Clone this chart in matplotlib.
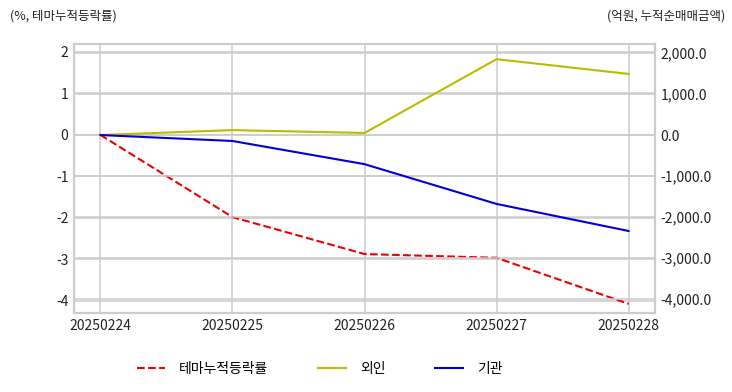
import matplotlib
matplotlib.use('Agg')
import matplotlib.pyplot as plt
from matplotlib.ticker import FuncFormatter

plt.rcParams['font.family'] = ['Noto Sans CJK KR', 'DejaVu Sans']
plt.rcParams['axes.unicode_minus'] = False

# data
dates = ['20250224', '20250225', '20250226', '20250227', '20250228']
theme_rate = [0.0, -1.98, -2.87, -2.96, -4.07]      # %, left axis
foreign = [0.0, 120.0, 50.0, 1850.0, 1490.0]        # 억원, right axis
institution = [0.0, -145.0, -710.0, -1680.0, -2340.0]

fig = plt.figure(figsize=(7.32, 3.92), dpi=100)
ax = fig.add_axes([74/732, 1 - 313/392, 581/732, 269/392])
ax2 = ax.twinx()

x = list(range(len(dates)))
grid_c = '#cccccc'

l1, = ax.plot(x, theme_rate, color='#ee0000', linestyle='--', linewidth=1.5, label='테마누적등락률')
l2, = ax2.plot(x, foreign, color='#bbbb00', linewidth=1.5, label='외인')
l3, = ax2.plot(x, institution, color='#0000dd', linewidth=1.5, label='기관')

ax.set_xlim(-0.2, 4.2)
ax.set_ylim(-4.29, 2.19)
ax.set_yticks([-4, -3, -2, -1, 0, 1, 2])
ax.set_yticklabels(['-4', '-3', '-2', '-1', '0', '1', '2'])
ax2.set_ylim(-4340, 2220)
ax2.set_yticks([-4000, -3000, -2000, -1000, 0, 1000, 2000])
ax2.yaxis.set_major_formatter(FuncFormatter(lambda v, p: f'{v:,.1f}'))
ax.set_xticks(x)
ax.set_xticklabels(dates)

for a in (ax, ax2):
    a.grid(True, color=grid_c, linewidth=1.1)
    a.tick_params(length=0, labelsize=10, colors='#222222', pad=4)
    for s in a.spines.values():
        s.set_color(grid_c)
        s.set_linewidth(1.5)
ax2.grid(True, axis='y', color=grid_c, linewidth=1.1)
ax2.xaxis.grid(False)
ax.set_axisbelow(True)

fig.text(10/732, 1 - 16/392, '(%, 테마누적등락률)', fontsize=9, color='#222222', va='center')
fig.text(725/732, 1 - 16/392, '(억원, 누적순매매금액)', fontsize=9, color='#222222', va='center', ha='right')

fig.legend(handles=[l1, l2, l3], loc='center', bbox_to_anchor=(320/732, 1 - 369/392),
           ncol=3, frameon=False, fontsize=10, columnspacing=3.6, handlelength=2.0,
           handletextpad=1.0)

fig.savefig('out.png', dpi=100)
